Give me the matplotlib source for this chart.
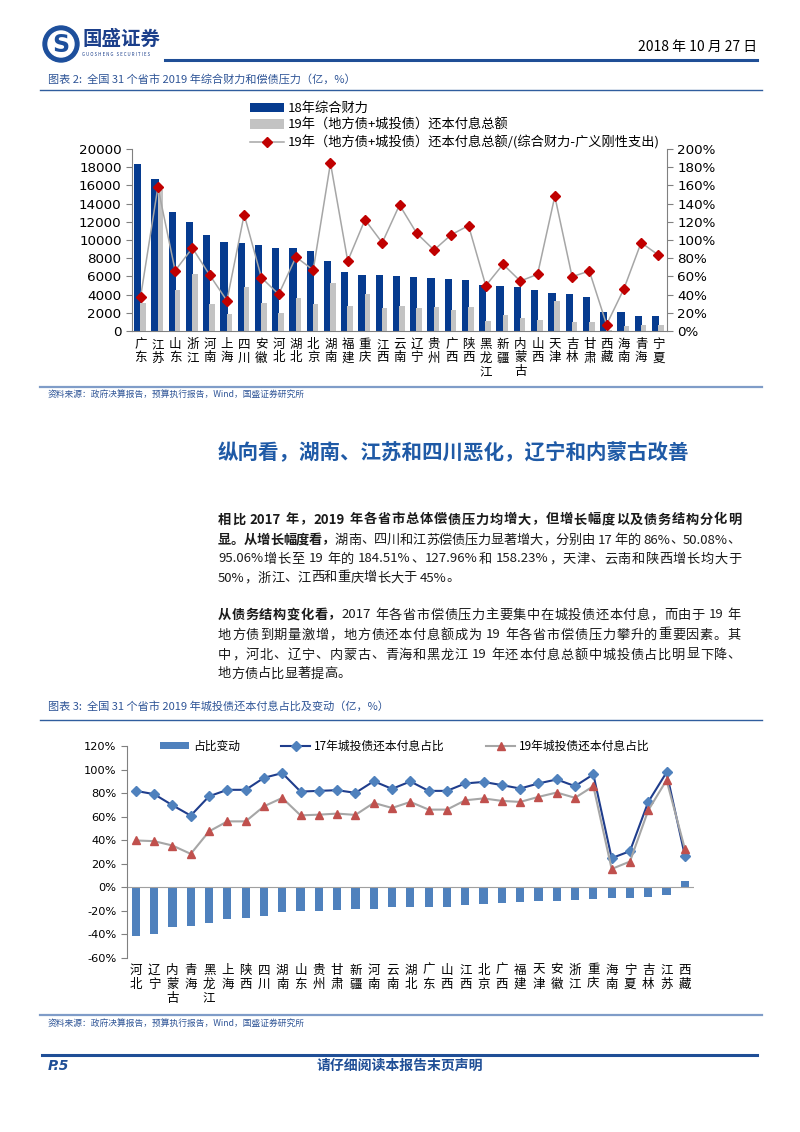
import re
import numpy as np
import matplotlib
matplotlib.use("Agg")
import matplotlib.pyplot as plt
from matplotlib.lines import Line2D
from matplotlib.patches import Ellipse

plt.rcParams['font.family'] = ['DejaVu Sans', 'Noto Sans CJK SC']
CJK = ['Noto Sans CJK SC', 'DejaVu Sans']

# ---- 图表2 数据 ----
prov1 = ['广东', '江苏', '山东', '浙江', '河南', '上海', '四川', '安徽', '河北', '湖北', '北京',
         '湖南', '福建', '重庆', '江西', '云南', '辽宁', '贵州', '广西', '陕西', '黑龙江', '新疆',
         '内蒙古', '山西', '天津', '吉林', '甘肃', '西藏', '海南', '青海', '宁夏']
caili18 = [18400, 16750, 13050, 12000, 10550, 9800, 9700, 9450, 9150, 9080, 8800,
           7730, 6520, 6150, 6130, 6040, 5900, 5790, 5710, 5600, 5050, 4980,
           4870, 4470, 4180, 4100, 3700, 2090, 2050, 1690, 1610]
huanben19 = [3040, 15500, 4500, 6230, 2930, 1870, 4800, 3110, 1940, 3590, 2930,
             5240, 2750, 4100, 2510, 2750, 2560, 2600, 2340, 2670, 1100, 1720,
             1430, 1210, 3300, 1030, 990, 150, 550, 700, 620]
ratio19 = [37.7, 158.23, 66.3, 91.2, 61.5, 33.3, 127.96, 58.6, 40.3, 81.3, 67.0,
           184.51, 76.9, 122.3, 97.0, 138.5, 107.3, 89.0, 105.8, 115.8, 49.8, 73.3,
           54.9, 62.3, 148.0, 59.7, 65.9, 7.0, 46.2, 97.1, 83.5]

# ---- 图表3 数据 ----
prov2 = ['河北', '辽宁', '内蒙古', '青海', '黑龙江', '上海', '陕西', '四川', '湖南', '山东', '贵州',
         '甘肃', '新疆', '河南', '云南', '湖北', '广东', '山西', '江西', '北京', '广西', '福建',
         '天津', '安徽', '浙江', '重庆', '海南', '宁夏', '吉林', '江苏', '西藏']
share17 = [81.9, 79.1, 69.7, 60.9, 77.3, 82.8, 82.8, 93.0, 97.0, 81.3, 81.9,
           82.5, 80.2, 90.1, 83.6, 89.9, 81.9, 81.9, 88.2, 89.5, 86.8, 83.9,
           88.2, 91.6, 85.9, 95.9, 24.8, 30.7, 72.5, 97.6, 27.0]
share19 = [39.8, 39.2, 35.5, 28.4, 47.5, 56.0, 56.0, 68.8, 75.9, 61.1, 61.7,
           62.6, 61.5, 71.7, 67.4, 72.5, 66.0, 66.0, 73.9, 75.5, 73.4, 72.5,
           76.8, 80.5, 76.0, 85.9, 15.6, 21.9, 65.4, 91.0, 32.7]
change = [-41.5, -39.6, -34.0, -32.5, -29.9, -26.6, -25.7, -24.3, -20.7, -20.5, -20.5,
          -19.6, -18.8, -18.3, -16.9, -16.9, -16.6, -16.3, -15.2, -14.1, -13.3, -12.7,
          -11.6, -11.3, -10.5, -9.7, -9.4, -8.9, -8.0, -6.6, 5.5]

W, H = 800, 1132
fig = plt.figure(figsize=(W / 100, H / 100), dpi=100)


def fx(px):
    return px / W


def fy(py):
    return 1 - py / H


def hline(x0, x1, y, lw, color):
    fig.add_artist(Line2D([fx(x0), fx(x1)], [fy(y), fy(y)], lw=lw, color=color,
                          transform=fig.transFigure))


def txt(x, y, s, **kw):
    kw.setdefault('family', CJK)
    return fig.text(fx(x), fy(y), s, **kw)


BLUE = '#2f5597'

# header
fig.add_artist(Ellipse((fx(61), fy(44)), 36 / W, 36 / H, color='#1d4f9c', transform=fig.transFigure))
fig.add_artist(Ellipse((fx(61), fy(44)), 26 / W, 26 / H, color='white', transform=fig.transFigure))
txt(61, 45, 'S', fontsize=17, fontweight='bold', color='#1d4f9c', ha='center', va='center',
    family=['DejaVu Sans'])
txt(82, 39, '国盛证券', fontsize=14, fontweight='bold', color='#1b3f8b', va='center')
txt(82, 55, 'G U O S H E N G   S E C U R I T I E S', fontsize=3.2, color='#1b3f8b', va='center')
txt(757, 47, '2018 年 10 月 27 日', fontsize=10, ha='right', va='center')
hline(165, 757, 60, 2.2, '#1f4e96')

# 图表2 标题
txt(48, 79, '图表 2:  全国 31 个省市 2019 年综合财力和偿债压力（亿，%）', fontsize=8,
    style='italic', color=BLUE, va='center')
hline(40, 762, 90, 1.0, '#2f5d9e')

# ---- chart 1 ----
x1 = np.arange(len(prov1))
ax1 = fig.add_axes([fx(132), fy(331), (667 - 132) / W, (331 - 149) / H])
b1 = ax1.bar(x1 - 0.17, caili18, width=0.42, color='#063b8f')
b2 = ax1.bar(x1 + 0.14, huanben19, width=0.32, color='#c3c3c3')
ax1.set_xlim(-0.5, 30.5)
ax1.set_ylim(0, 20000)
ax1.set_yticks(range(0, 20001, 2000))
ax1.set_xticks(x1)
ax1.set_xticklabels(['\n'.join(p) for p in prov1], fontsize=9, linespacing=1.05, family=CJK)
ax1.tick_params(axis='x', length=0, pad=5)
ax1.tick_params(axis='y', labelsize=9.7, length=4, color='#808080', direction='out')
for s in ['top', 'right']:
    ax1.spines[s].set_visible(False)
for s in ['left', 'bottom']:
    ax1.spines[s].set_color('#808080')

ax1r = ax1.twinx()
l1, = ax1r.plot(x1, ratio19, color='#a6a6a6', lw=1.1, marker='D', ms=5,
                mfc='#c00000', mec='#c00000')
ax1r.set_ylim(0, 200)
ax1r.set_yticks(range(0, 201, 20))
ax1r.set_yticklabels(['%d%%' % v for v in range(0, 201, 20)])
ax1r.tick_params(axis='y', labelsize=9.7, length=4, color='#808080', direction='out')
for s in ['top', 'left', 'bottom']:
    ax1r.spines[s].set_visible(False)
ax1r.spines['right'].set_color('#808080')

fig.legend([b1, b2, l1],
           ['18年综合财力', '19年（地方债+城投债）还本付息总额',
            '19年（地方债+城投债）还本付息总额/(综合财力-广义刚性支出)'],
           loc='upper left', bbox_to_anchor=(fx(250), fy(102)), frameon=False,
           borderpad=0, borderaxespad=0, handlelength=2.6, handleheight=0.7,
           handletextpad=0.25, labelspacing=0.28, prop={'family': CJK, 'size': 9.5})

hline(40, 762, 387, 1.6, '#7f9cc8')
txt(48, 394, '资料来源：政府决算报告，预算执行报告，Wind，国盛证券研究所', fontsize=6.3,
    style='italic', color=BLUE, va='center')

# ---- 正文 ----
txt(218, 453, '纵向看，湖南、江苏和四川恶化，辽宁和内蒙古改善', fontsize=14.8,
    fontweight='bold', color='#1f5aa6', va='center')

BODY_FS = 9.5
X0, X1 = 218, 741
renderer = fig.canvas.get_renderer()
_adv = {}


def width_of(s, bold):
    t = fig.text(0, 0, s, fontsize=BODY_FS, family=CJK, fontweight='bold' if bold else 'normal')
    w = t.get_window_extent(renderer).width
    t.remove()
    return w


def adv(tok, bold):
    if (tok, bold) not in _adv:
        _adv[(tok, bold)] = width_of('国' + tok + '国', bold) - width_of('国国', bold)
    return _adv[(tok, bold)]


def body_line(segs, y, justify=True):
    toks = []
    for s, b in segs:
        for m in re.finditer(r'[A-Za-z0-9.%]+| +|.', s):
            toks.append((m.group(), b))
    ws = [adv(t, b) for t, b in toks]
    gap = (X1 - X0 - sum(ws)) / (len(toks) - 1) if justify else 0
    x = X0
    for (t, b), w in zip(toks, ws):
        if t.strip():
            txt(x, y + 4.5, t, fontsize=BODY_FS, fontweight='bold' if b else 'normal',
                color='#1a1a1a', va='baseline', ha='left')
        x += w + gap


body_line([('相比 2017 年，2019 年各省市总体偿债压力均增大，但增长幅度以及债务结构分化明', True)], 519)
body_line([('显。从增长幅度看，', True),
           ('湖南、四川和江苏偿债压力显著增大，分别由 17 年的 86%、50.08%、', False)], 539)
body_line([('95.06%增长至 19 年的 184.51%、127.96%和 158.23%，天津、云南和陕西增长均大于', False)], 558)
body_line([('50%，浙江、江西和重庆增长大于 45%。', False)], 577, justify=False)

body_line([('从债务结构变化看，', True),
           ('2017 年各省市偿债压力主要集中在城投债还本付息，而由于 19 年', False)], 614)
body_line([('地方债到期量激增，地方债还本付息额成为 19 年各省市偿债压力攀升的重要因素。其', False)], 634)
body_line([('中，河北、辽宁、内蒙古、青海和黑龙江 19 年还本付息总额中城投债占比明显下降、', False)], 654)
body_line([('地方债占比显著提高。', False)], 673, justify=False)

# 图表3 标题
txt(48, 706, '图表 3:  全国 31 个省市 2019 年城投债还本付息占比及变动（亿，%）', fontsize=8,
    style='italic', color=BLUE, va='center')
hline(40, 762, 720, 1.0, '#2f5d9e')

# ---- chart 2 ----
x2 = np.arange(len(prov2))
ax2 = fig.add_axes([fx(126.7), fy(958), (694 - 126.7) / W, (958 - 746) / H])
bb = ax2.bar(x2, change, width=0.45, color='#4f81bd')
la, = ax2.plot(x2, share17, color='#1f3d8c', lw=1.5, marker='D', ms=5,
               mfc='#4f81bd', mec='#4f81bd')
lb, = ax2.plot(x2, share19, color='#a6a6a6', lw=1.5, marker='^', ms=5.5,
               mfc='#c0504d', mec='#c0504d')
ax2.axhline(0, color='#a0a0a0', lw=0.8)
ax2.set_xlim(-0.5, 30.5)
ax2.set_ylim(-60, 120)
ax2.set_yticks(range(-60, 121, 20))
ax2.set_yticklabels(['%d%%' % v for v in range(-60, 121, 20)])
ax2.set_xticks(x2)
ax2.set_xticklabels(['\n'.join(p) for p in prov2], fontsize=9, linespacing=1.1, family=CJK)
ax2.tick_params(axis='x', length=0, pad=4)
ax2.tick_params(axis='y', labelsize=8.2, length=4, color='#808080', direction='out')
for s in ['top', 'right', 'bottom']:
    ax2.spines[s].set_visible(False)
ax2.spines['left'].set_color('#808080')

fig.legend([bb, la, lb], ['占比变动', '17年城投债还本付息占比', '19年城投债还本付息占比'],
           ncol=3, loc='center left', bbox_to_anchor=(fx(160), fy(746)), frameon=False,
           borderpad=0, borderaxespad=0, handlelength=2.45, handleheight=0.6,
           handletextpad=0.35, columnspacing=3.5, prop={'family': CJK, 'size': 8.5})

hline(40, 762, 1015, 1.6, '#7f9cc8')
txt(48, 1023, '资料来源：政府决算报告，预算执行报告，Wind，国盛证券研究所', fontsize=6.3,
    style='italic', color=BLUE, va='center')

# footer
hline(42, 757, 1055, 2.2, '#1f4e96')
txt(48, 1066, 'P.5', fontsize=10, fontweight='bold', style='italic', color='#1f4e96',
    va='center', family=['DejaVu Sans'])
txt(400, 1066, '请仔细阅读本报告末页声明', fontsize=10, fontweight='bold', style='italic',
    color='#1f4e96', va='center', ha='center')

fig.savefig('out.png', dpi=100)
